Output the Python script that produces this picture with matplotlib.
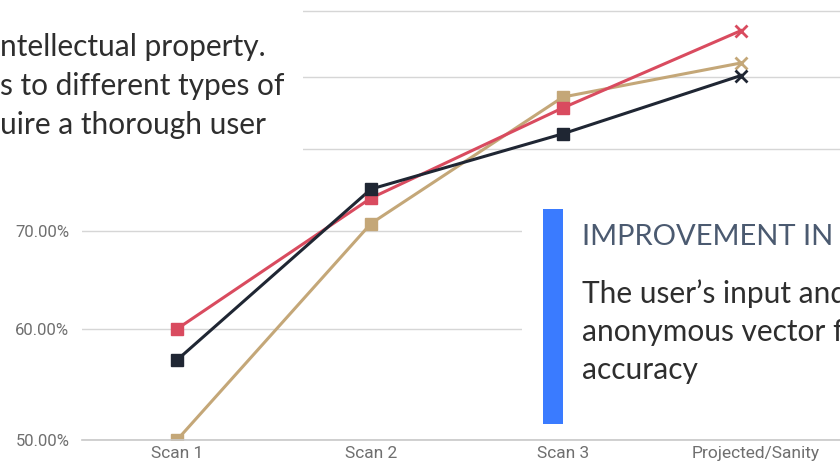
import numpy as np
import matplotlib
matplotlib.use("Agg")
import matplotlib.pyplot as plt
import matplotlib.transforms as mtransforms
from matplotlib.patches import Rectangle

# ---- data ----
categories = ["Scan 1", "Scan 2", "Scan 3", "Projected/Sanity"]
red_vals = [60.0, 74.0, 85.7, 97.0]
navy_vals = [57.2, 75.1, 82.1, 90.2]
tan_vals = [50.0, 70.9, 87.2, 92.1]
ytick_vals = [50, 60, 70, 80, 90, 100]
ytick_labels = ["50.00%", "60.00%", "70.00%", "", "", ""]

# the slide is shown with a slight perspective, so both axes are a bit uneven
grid_vals = np.array([0, 50, 60, 70, 80, 90, 100, 110, 200])
grid_up = np.array([-555, 0, 111, 209, 291, 363, 429, 489, 1029], dtype=float)
cat_idx = np.array([-10, 0, 1, 2, 3, 13], dtype=float)
cat_px = np.array([-1763, 177, 371, 563, 741, 2521], dtype=float)

def yfwd(v):
    return np.interp(v, grid_vals, grid_up)

def yinv(u):
    return np.interp(u, grid_up, grid_vals)

def xfwd(v):
    return np.interp(v, cat_idx, cat_px)

def xinv(u):
    return np.interp(u, cat_px, cat_idx)

RED = "#d94b5f"
NAVY = "#1f2633"
TAN = "#c4a778"

W, H = 840, 467
fig = plt.figure(figsize=(W / 100, H / 100), dpi=100)
ax = fig.add_axes([82 / W, (H - 440) / H, 1 - 82 / W, 440 / H])
ax.set_yscale("function", functions=(yfwd, yinv))
ax.set_xscale("function", functions=(xfwd, xinv))

x = np.arange(len(categories))
for vals, col in [(tan_vals, TAN), (red_vals, RED), (navy_vals, NAVY)]:
    ax.plot(x, vals, color=col, lw=2.2, zorder=3)
    ax.plot(x[:3], vals[:3], ls="none", marker="s", ms=9, color=col, zorder=4)
    ax.plot(x[3:], vals[3:], ls="none", marker="x", ms=9, mew=2, color=col, zorder=4)

ax.set_xlim(xinv(82), xinv(840))
ax.set_ylim(50, 101.8)
ax.set_xticks(x)
ax.set_xticklabels(categories, fontsize=12.5, color="#6f6f6f", family="Roboto")
ax.set_yticks(ytick_vals)
ax.set_yticklabels(ytick_labels, fontsize=12, color="#6f6f6f", family="Roboto")
ax.tick_params(axis="y", length=0, pad=9)
ax.tick_params(axis="x", length=0, pad=4)
# last label sits a little right of its point on the slide
lbl = ax.get_xticklabels()[-1]
lbl.set_transform(lbl.get_transform() + mtransforms.ScaledTranslation(15 / 100, 0, fig.dpi_scale_trans))
ax.yaxis.grid(True, color="#d6d6d6", lw=1)
ax.set_axisbelow(True)
for s in ["left", "right", "top"]:
    ax.spines[s].set_visible(False)
ax.spines["bottom"].set_color("#c8c8c8")
ax.spines["bottom"].set_linewidth(1.2)
ax.spines["bottom"].set_zorder(5)

# overlapping slide text boxes
def px(x0, y0, w, h, **kw):
    return Rectangle((x0 / W, 1 - (y0 + h) / H), w / W, h / H,
                     transform=fig.transFigure, **kw)

fig.patches.append(px(0, 0, 303, 165, facecolor="white", edgecolor="none", zorder=1))
fig.patches.append(px(522, 196, 330, 240, facecolor="white", edgecolor="none", zorder=1))
fig.patches.append(px(543, 209, 20, 215, facecolor="#3a7bff", edgecolor="none", zorder=2))

left_lines = ["ntellectual property.", "s to different types of", "uire a thorough user"]
for i, t in enumerate(left_lines):
    fig.text(0 / W, 1 - (47 + i * 39) / H, t, fontsize=21.5, family="Lato",
             color="#2e2e2e", va="center", ha="left", zorder=3)

fig.text(582 / W, 1 - 237 / H, "IMPROVEMENT IN", fontsize=21,
         family="Lato", color="#4b5a70", va="center", ha="left", zorder=3)
right_lines = ["The user\u2019s input and", "anonymous vector f", "accuracy"]
for i, t in enumerate(right_lines):
    fig.text(582 / W, 1 - (294 + i * 38) / H, t, fontsize=21.5, family="Lato",
             color="#2e2e2e", va="center", ha="left", zorder=3)

fig.savefig("out.png", dpi=100)
